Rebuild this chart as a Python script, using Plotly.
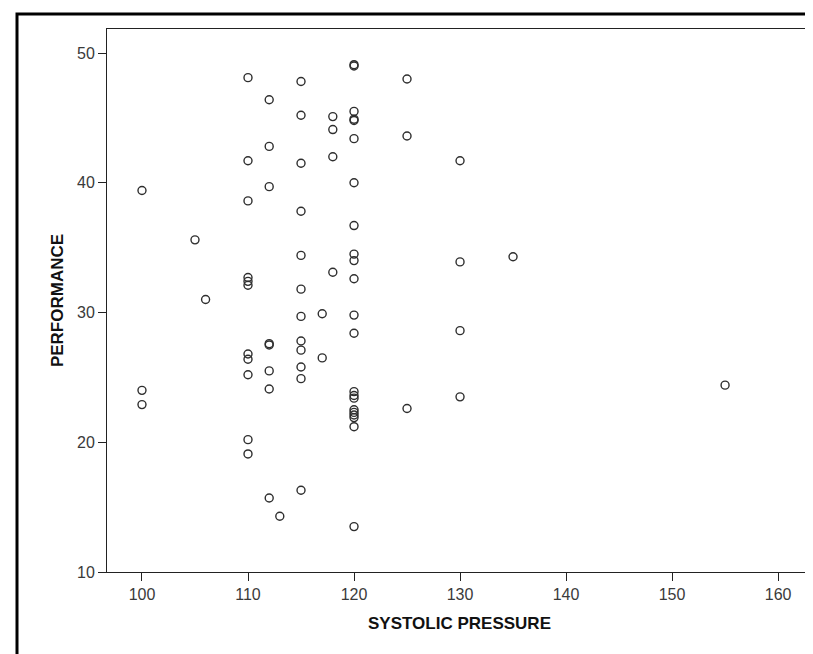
import plotly.graph_objects as go

# Data (systolic pressure vs performance)
sys_100 = [39.4, 24.0, 22.9]
sys_105 = [35.6]
sys_106 = [31.0]
sys_110 = [48.1, 41.7, 38.6, 32.7, 32.4, 32.1, 26.8, 26.4, 25.2, 20.2, 19.1]
sys_112 = [46.4, 42.8, 39.7, 27.6, 27.5, 25.5, 24.1, 15.7]
sys_113 = [14.3]
sys_115 = [47.8, 45.2, 41.5, 37.8, 34.4, 31.8, 29.7, 27.8, 27.1, 25.8, 24.9, 16.3]
sys_117 = [29.9, 26.5]
sys_118 = [45.1, 44.1, 42.0, 33.1]
sys_120 = [49.1, 49.0, 45.5, 44.9, 44.8, 43.4, 40.0, 36.7, 34.5, 34.0, 32.6, 29.8,
           28.4, 23.9, 23.6, 23.4, 22.5, 22.3, 22.1, 21.9, 21.2, 13.5]
sys_125 = [48.0, 43.6, 22.6]
sys_130 = [41.7, 33.9, 28.6, 23.5]
sys_135 = [34.3]
sys_155 = [24.4]

groups = {100: sys_100, 105: sys_105, 106: sys_106, 110: sys_110, 112: sys_112,
          113: sys_113, 115: sys_115, 117: sys_117, 118: sys_118, 120: sys_120,
          125: sys_125, 130: sys_130, 135: sys_135, 155: sys_155}

x_vals, y_vals = [], []
for k, vals in groups.items():
    for v in vals:
        x_vals.append(k)
        y_vals.append(v)

x_ticks = [100, 110, 120, 130, 140, 150, 160]
y_ticks = [10, 20, 30, 40, 50]

FONT = "Arial, Liberation Sans, sans-serif"

fig = go.Figure()
fig.add_trace(go.Scatter(
    x=x_vals, y=y_vals, mode="markers",
    marker=dict(symbol="circle-open", size=8, color="#2e2e2e",
                line=dict(width=1.4, color="#2e2e2e")),
    showlegend=False, hoverinfo="x+y"))

axis_common = dict(
    showgrid=False, zeroline=False, showline=True, linecolor="#222222",
    linewidth=1, mirror=True, ticks="outside", ticklen=8, tickwidth=1,
    tickcolor="#222222",
    tickfont=dict(family=FONT, size=16, color="#3a3a3a"),
)

fig.update_layout(
    width=813, height=654,
    margin=dict(l=99, r=9, t=21, b=90),
    paper_bgcolor="white", plot_bgcolor="white",
    xaxis=dict(range=[96.7, 163.2], tickvals=x_ticks,
               title=dict(text="<b>SYSTOLIC PRESSURE</b>", standoff=14,
                          font=dict(family=FONT, size=17, color="#111111")),
               **axis_common),
    yaxis=dict(range=[10, 51.85], tickvals=y_ticks,
               title=dict(text="<b>PERFORMANCE</b>", standoff=9,
                          font=dict(family=FONT, size=17, color="#111111")),
               **axis_common),
    shapes=[dict(type="rect", xref="paper", yref="paper",
                 x0=(9 - 99) / 705, x1=(820 - 99) / 705,
                 y0=(564 - 660) / 543, y1=(564 - 6) / 543,
                 line=dict(color="black", width=3), layer="above")],
)

fig.write_html("out.html")
